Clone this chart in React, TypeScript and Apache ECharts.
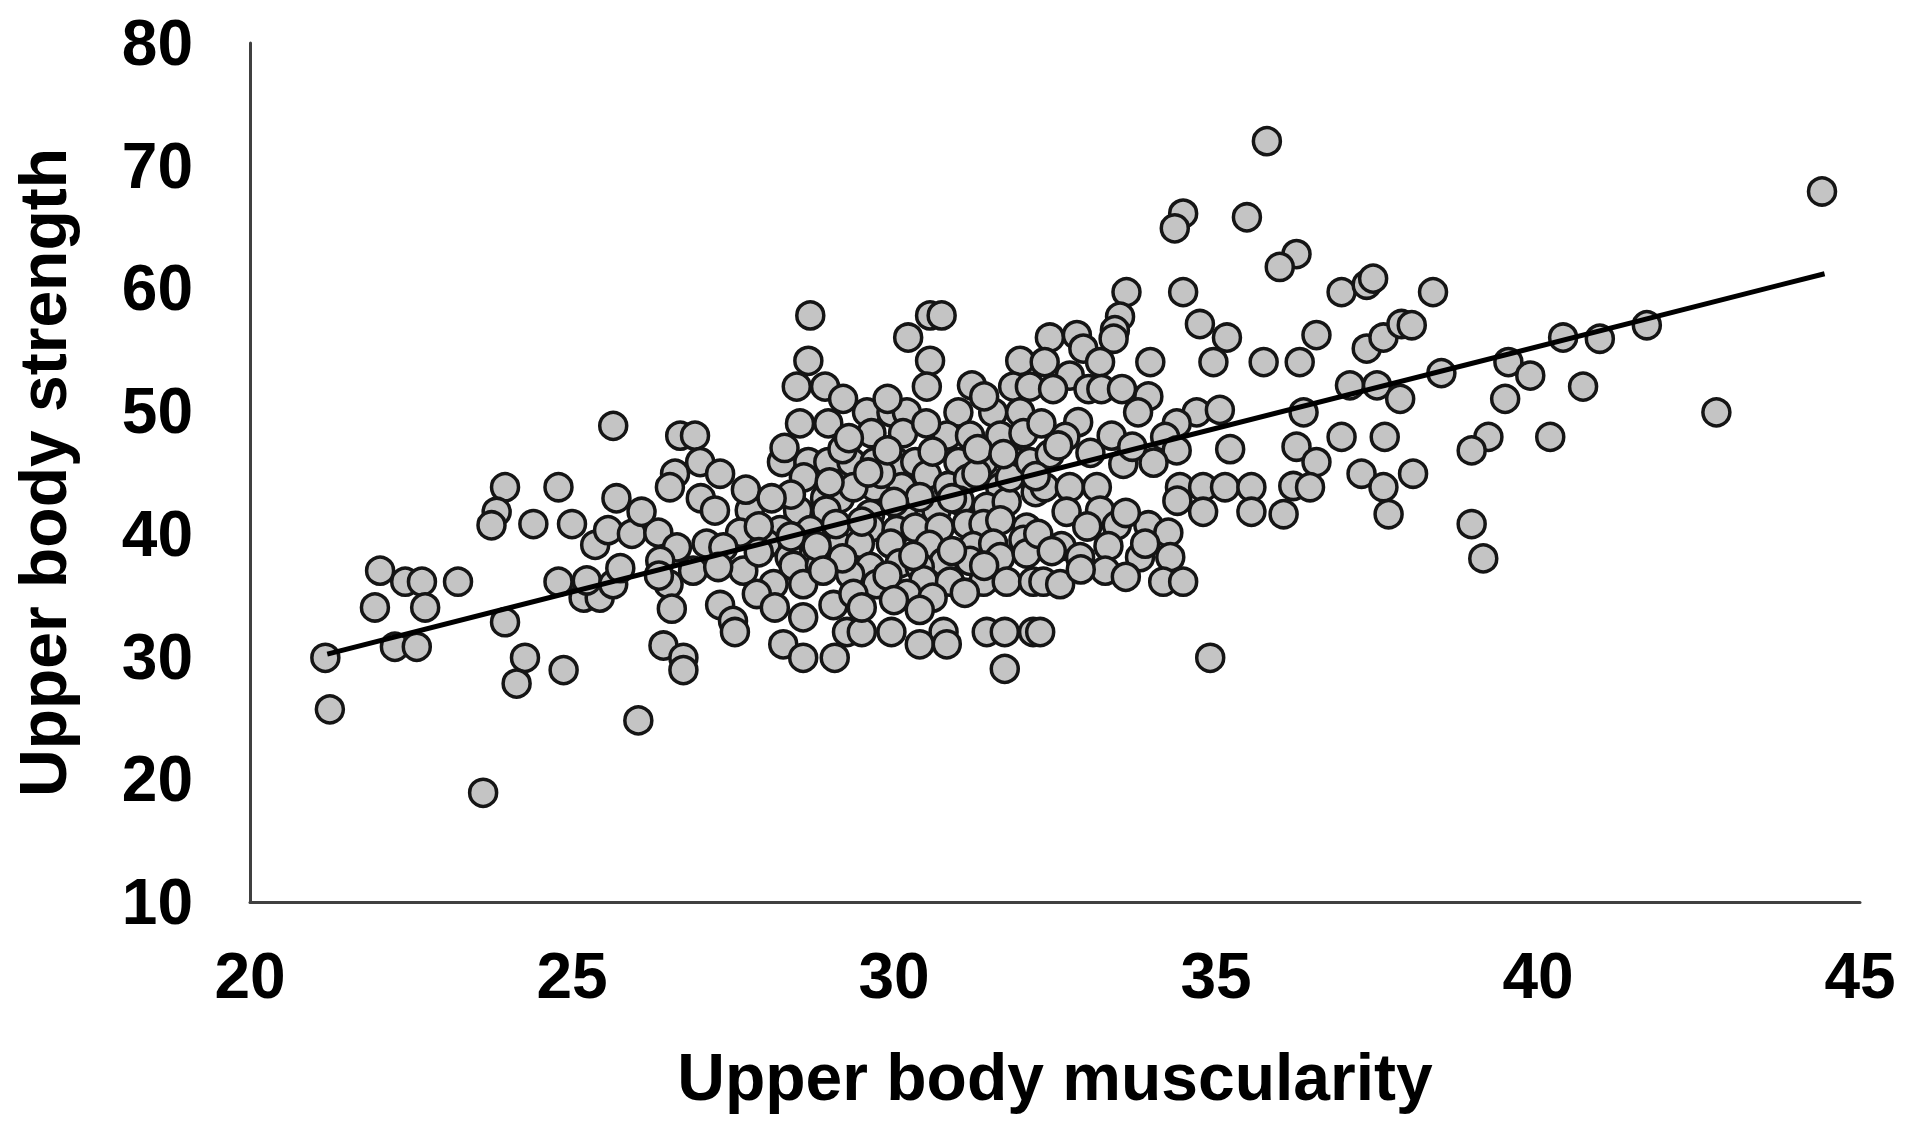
import React, { useEffect, useRef } from "react";
import * as echarts from "echarts";

// [upper body muscularity, upper body strength]
const pointsLeft: [number, number][] = [
  [21.17, 29.9], [21.24, 25.7], [22.02, 37.0], [21.94, 34.0], [22.41, 36.1], [22.67, 36.1],
  [22.72, 34.0], [22.25, 30.8], [22.59, 30.8], [23.23, 36.1], [23.96, 43.8], [23.83, 41.8],
  [23.75, 40.7], [24.4, 40.8], [24.79, 43.8], [25.0, 40.8], [24.27, 29.9], [24.14, 27.8],
  [24.87, 28.9], [23.96, 32.8], [23.62, 18.9], [24.79, 36.1], [25.18, 34.8], [25.43, 34.8],
  [25.23, 36.2], [25.64, 35.9], [25.75, 37.2], [25.36, 39.1], [25.56, 40.3], [25.93, 40.0],
  [26.34, 40.1], [26.63, 38.9], [25.69, 42.9], [26.08, 41.8], [26.37, 37.8], [26.5, 35.9],
  [26.55, 33.9], [26.42, 30.9], [26.73, 29.9], [26.73, 28.9], [26.03, 24.8], [26.6, 44.9],
  [26.52, 43.8], [25.64, 48.8], [26.35, 36.6],
];

const pointsCentre: [number, number][] = [
  [28.7, 57.8], [30.56, 57.8], [30.74, 57.8], [30.22, 56.0], [28.67, 54.1], [30.56, 54.1],
  [31.96, 54.1], [28.49, 52.0], [28.93, 52.0], [30.51, 52.0], [31.21, 52.1], [31.85, 52.0],
  [32.11, 52.0], [29.21, 51.0], [29.58, 49.9], [29.96, 49.9], [30.2, 49.9], [31.0, 49.9],
  [31.54, 49.9], [31.96, 49.9], [28.54, 49.0], [28.98, 49.0], [26.68, 48.0], [26.91, 48.0],
  [29.65, 48.2], [30.14, 48.2], [30.82, 48.0], [31.18, 48.0], [31.65, 48.0], [32.01, 48.2],
  [26.99, 45.85], [28.26, 45.85], [28.67, 45.85], [28.98, 45.85], [29.34, 45.85], [29.7, 45.85],
  [30.04, 45.85], [30.33, 45.85], [31.0, 45.85], [31.39, 45.85], [31.9, 45.85], [27.3, 44.9],
  [30.51, 44.8], [29.7, 43.8], [30.12, 43.8], [30.84, 43.9], [31.15, 44.5], [31.28, 44.9],
  [31.65, 43.8], [32.2, 43.4], [27.0, 42.9], [28.93, 42.9], [29.16, 42.9], [29.37, 43.8],
  [27.22, 41.9], [27.76, 41.9], [28.51, 41.9], [28.95, 41.9], [29.63, 41.6], [30.14, 41.6],
  [30.66, 41.9], [31.02, 42.7], [31.44, 42.2], [31.75, 42.6], [27.61, 40.1], [28.23, 40.3],
  [29.63, 40.5], [30.04, 40.3], [30.33, 40.5], [30.71, 40.5], [31.13, 40.8], [31.39, 40.8],
  [31.65, 41.1], [32.06, 40.5], [27.09, 39.2], [27.35, 38.9], [28.02, 39.2], [29.16, 39.0],
  [29.47, 39.2], [29.95, 39.2], [30.55, 39.1], [31.23, 39.0], [31.54, 39.2], [32.01, 39.5],
  [28.38, 38.1], [28.75, 38.2], [29.63, 37.3], [30.09, 37.6], [30.77, 37.7], [31.18, 37.8],
  [31.65, 38.1], [32.06, 38.4], [26.88, 37.0], [27.66, 37.0], [27.27, 37.3], [28.44, 37.4],
  [28.85, 37.4], [30.4, 37.3], [28.13, 35.9], [28.59, 35.9], [29.32, 36.7], [29.73, 35.9],
  [30.46, 36.2], [30.87, 36.1], [31.39, 36.1], [31.75, 36.1], [32.16, 36.1], [30.2, 35.1],
  [27.87, 35.1], [27.3, 34.2], [28.15, 34.0], [28.59, 33.2], [29.06, 34.2], [29.37, 35.1],
  [27.5, 32.9], [27.53, 32.0], [29.27, 32.0], [29.5, 32.0], [29.96, 32.0], [30.77, 32.0],
  [31.44, 32.0], [31.72, 32.0], [32.16, 32.0], [28.28, 31.0], [30.4, 31.0], [30.82, 31.0],
  [28.59, 29.9], [29.08, 29.9], [31.72, 29.0],
  [27.9, 40.6], [28.7, 40.3], [29.1, 40.8], [28.4, 39.8], [28.8, 39.0], [29.2, 38.0],
  [30.3, 38.2], [30.9, 38.6], [31.4, 37.4], [29.9, 36.6], [30.6, 34.8], [31.1, 35.2],
  [28.9, 37.0], [29.5, 34.0], [30.0, 34.6], [30.4, 33.8], [27.9, 38.5], [29.8, 44.9],
  [30.4, 43.0], [30.9, 42.9], [31.8, 44.6], [28.6, 44.6], [29.0, 44.2], [29.9, 46.8],
  [30.6, 46.7], [31.3, 46.9], [31.7, 46.5], [29.2, 46.9], [28.4, 43.2], [30.0, 42.6],
  [29.5, 41.0], [27.7, 43.6], [28.1, 42.9],
  [29.3, 47.8], [30.5, 49.0], [29.9, 51.0], [31.4, 51.2], [28.3, 47.0], [29.6, 45.0],
];

const pointsRight: [number, number][] = [
  [33.61, 59.7], [34.49, 59.7], [36.95, 59.7], [37.34, 60.3], [33.51, 57.7], [33.43, 56.6],
  [33.41, 55.9], [32.42, 56.0], [32.84, 56.2], [32.94, 55.1], [32.34, 54.0], [32.73, 52.9],
  [33.2, 54.0], [32.47, 51.8], [33.02, 51.8], [33.22, 51.8], [33.54, 51.8], [33.95, 51.2],
  [33.98, 54.0], [34.75, 57.1], [35.17, 56.0], [34.96, 54.0], [35.74, 54.0], [36.3, 54.0],
  [36.56, 56.2], [37.34, 55.1], [37.6, 56.0], [37.08, 52.1], [37.5, 52.1], [33.79, 49.9],
  [34.7, 49.9], [35.06, 50.1], [32.29, 49.0], [32.86, 49.1], [32.66, 47.9], [33.38, 48.0],
  [34.39, 49.0], [34.21, 47.9], [36.36, 49.9], [36.95, 47.9], [37.62, 47.9], [35.22, 46.9],
  [34.39, 46.8], [34.03, 45.8], [33.56, 45.7], [32.11, 45.85], [32.42, 46.5], [36.25, 47.1],
  [36.56, 45.85], [37.26, 44.9], [37.6, 43.8], [37.68, 41.6], [32.34, 43.8], [32.73, 43.8],
  [33.15, 43.8], [34.44, 43.8], [34.8, 43.8], [35.14, 43.8], [35.55, 43.8], [34.4, 42.7],
  [34.8, 41.8], [35.55, 41.8], [36.2, 43.9], [36.46, 43.8], [36.05, 41.6], [32.68, 41.8],
  [33.2, 41.9], [33.46, 40.7], [32.24, 40.0], [32.6, 39.0], [32.89, 38.1], [33.33, 39.0],
  [33.95, 40.7], [34.26, 40.1], [34.29, 38.1], [33.82, 38.1], [33.28, 37.0], [32.32, 36.1],
  [32.58, 35.9], [34.18, 36.1], [34.49, 36.1], [32.27, 32.0], [34.91, 29.9],
  [32.55, 47.2], [33.05, 46.6], [32.2, 44.7], [33.7, 47.1], [33.0, 40.6], [32.45, 38.6],
  [33.6, 41.7], [33.9, 39.2], [32.9, 37.1], [33.6, 36.5],
];

const pointsFar: [number, number][] = [
  [44.41, 67.9], [38.37, 59.7], [37.88, 57.1], [38.04, 57.0], [38.5, 53.1], [39.54, 54.0],
  [39.88, 52.9], [40.39, 56.0], [40.96, 55.9], [41.69, 57.0], [37.86, 51.0], [39.49, 51.0],
  [40.7, 52.0], [42.77, 49.9], [39.23, 47.9], [38.97, 46.8], [40.19, 47.9], [38.06, 44.9],
  [38.97, 40.8], [39.15, 38.0],
];

const pointsTop: [number, number][] = [
  [35.79, 72.0], [34.49, 66.1], [34.36, 64.9], [35.48, 65.8], [36.25, 62.8], [35.99, 61.75],
  [37.44, 60.8],
];

// fitted trend line end points
const trendLine: [number, number][] = [
  [21.2, 30.2],
  [44.45, 61.2],
];

const xTicks = { min: 20, max: 45, interval: 5 };
const yTicks = { min: 10, max: 80, interval: 10 };

const FONT = "'Liberation Sans', Arial, sans-serif";

export default function App() {
  const ref = useRef<HTMLDivElement>(null);

  useEffect(() => {
    document.body.style.margin = "0";
    if (!ref.current) return;
    const chart = echarts.init(ref.current, null, { renderer: "svg" });
    const allPoints = [
      ...pointsLeft,
      ...pointsCentre,
      ...pointsRight,
      ...pointsFar,
      ...pointsTop,
    ];
    const axisLine = { show: true, lineStyle: { color: "#404040", width: 3 } };
    const labelStyle = {
      color: "#000",
      fontSize: 64,
      fontWeight: "bold" as const,
      fontFamily: FONT,
    };
    chart.setOption({
      animation: false,
      backgroundColor: "#fff",
      grid: { left: 250, right: 47, top: 43, bottom: 221, containLabel: false },
      xAxis: {
        type: "value",
        min: xTicks.min,
        max: xTicks.max,
        interval: xTicks.interval,
        axisLine,
        axisTick: { show: false },
        splitLine: { show: false },
        axisLabel: { ...labelStyle, margin: 42 },
        name: "Upper body muscularity",
        nameLocation: "middle",
        nameGap: 142,
        nameTextStyle: { ...labelStyle, fontSize: 66 },
      },
      yAxis: {
        type: "value",
        min: yTicks.min,
        max: yTicks.max,
        interval: yTicks.interval,
        axisLine,
        axisTick: { show: false },
        splitLine: { show: false },
        axisLabel: { ...labelStyle, margin: 57 },
        name: "Upper body strength",
        nameLocation: "middle",
        nameRotate: 90,
        nameGap: 174,
        nameTextStyle: { ...labelStyle, fontSize: 66 },
      },
      series: [
        {
          type: "scatter",
          data: allPoints,
          symbol: "circle",
          symbolSize: 27,
          itemStyle: {
            color: "#c4c4c4",
            borderColor: "#151515",
            borderWidth: 3.5,
            opacity: 1,
          },
          z: 2,
        },
        {
          type: "line",
          data: trendLine,
          symbol: "none",
          lineStyle: { color: "#000", width: 5 },
          z: 3,
        },
      ],
    });
    return () => chart.dispose();
  }, []);

  return (
    <div
      ref={ref}
      style={{ position: "absolute", left: 0, top: 0, width: 1907, height: 1123 }}
    />
  );
}
